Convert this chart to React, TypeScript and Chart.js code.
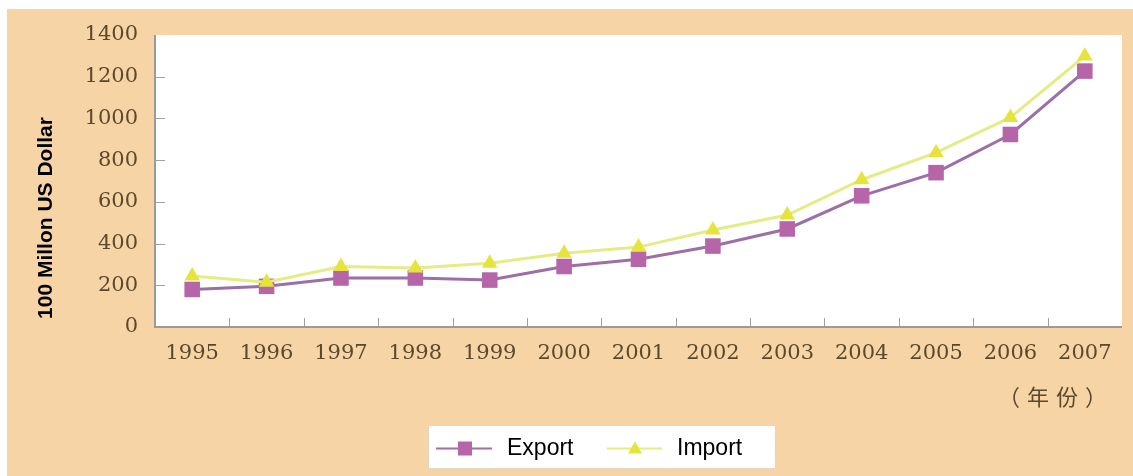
import React, { useEffect, useRef } from "react";
import { Chart, registerables } from "chart.js";

Chart.register(...registerables);

const years = ["1995", "1996", "1997", "1998", "1999", "2000", "2001", "2002", "2003", "2004", "2005", "2006", "2007"];
const exportValues = [180, 195, 235, 235, 225, 290, 325, 388, 470, 629, 740, 923, 1227];
const importValues = [245, 215, 290, 283, 306, 354, 383, 465, 537, 706, 836, 1005, 1299];
const yTicks = [0, 200, 400, 600, 800, 1000, 1200, 1400];
const yTitle = "100 Millon US Dollar";
const xUnit = "（年份）";
const legendLabels = ["Export", "Import"];

const ORANGE = "#F7D4A6";
const TICK_COLOR = "#5c482a";
const EXPORT_LINE = "#9c6fa6";
const EXPORT_POINT = "#b565a8";
const IMPORT_LINE = "#e4ec86";
const IMPORT_POINT = "#e6e43c";

const decorPlugin = {
  id: "decor",
  beforeDraw(chart: any) {
    const ctx = chart.ctx;
    const { left, right, top, bottom } = chart.chartArea;
    ctx.save();
    ctx.fillStyle = "#ffffff";
    ctx.fillRect(0, 0, chart.width, chart.height);
    ctx.fillStyle = ORANGE;
    ctx.fillRect(7, 9, chart.width - 7, chart.height - 9);
    ctx.fillStyle = "#ffffff";
    ctx.fillRect(left, top, right - left, bottom - top);
    ctx.restore();
  },
  afterDraw(chart: any) {
    const ctx = chart.ctx;
    const { left, right, top, bottom } = chart.chartArea;
    const xs = chart.scales.x;
    const ys = chart.scales.y;
    ctx.save();
    // inward tick marks
    ctx.strokeStyle = "#a0a0a0";
    ctx.lineWidth = 1;
    ctx.beginPath();
    for (const v of yTicks) {
      if (v === 0 || v === 1400) continue;
      const y = Math.round(ys.getPixelForValue(v)) + 0.5;
      ctx.moveTo(left, y);
      ctx.lineTo(left + 10, y);
    }
    for (let i = 1; i < years.length; i++) {
      const x = Math.round((xs.getPixelForValue(i - 1) + xs.getPixelForValue(i)) / 2) + 0.5;
      ctx.moveTo(x, bottom);
      ctx.lineTo(x, bottom - 9);
    }
    ctx.stroke();
    // axis lines
    ctx.strokeStyle = "#9a9a9a";
    ctx.lineWidth = 2;
    ctx.beginPath();
    ctx.moveTo(left, top);
    ctx.lineTo(left, bottom);
    ctx.lineTo(right, bottom);
    ctx.stroke();

    // y title
    ctx.save();
    ctx.translate(46, 218);
    ctx.rotate(-Math.PI / 2);
    ctx.fillStyle = "#000000";
    ctx.font = "bold 21px 'Liberation Sans', Arial, sans-serif";
    ctx.textAlign = "center";
    ctx.textBaseline = "middle";
    ctx.fillText(yTitle, 0, 0);
    ctx.restore();

    // x unit
    ctx.fillStyle = TICK_COLOR;
    ctx.font = "22px 'Noto Sans CJK SC', sans-serif";
    ctx.textAlign = "center";
    ctx.textBaseline = "middle";
    try { (ctx as any).letterSpacing = "7px"; } catch (e) {}
    ctx.fillText(xUnit, 1056, 397);
    try { (ctx as any).letterSpacing = "0px"; } catch (e) {}

    // legend
    const lx = 428, ly = 425, lw = 347, lh = 43;
    ctx.fillStyle = "#ffffff";
    ctx.fillRect(lx, ly, lw, lh);
    ctx.strokeStyle = "#e6d6c0";
    ctx.lineWidth = 1;
    ctx.strokeRect(lx + 0.5, ly + 0.5, lw, lh);
    const cy = ly + lh / 2 + 2;
    // export
    ctx.strokeStyle = EXPORT_LINE;
    ctx.lineWidth = 2;
    ctx.beginPath();
    ctx.moveTo(436, cy);
    ctx.lineTo(492, cy);
    ctx.stroke();
    ctx.fillStyle = EXPORT_POINT;
    ctx.fillRect(458, cy - 7, 14, 14);
    // import
    ctx.strokeStyle = IMPORT_LINE;
    ctx.beginPath();
    ctx.moveTo(607, cy);
    ctx.lineTo(662, cy);
    ctx.stroke();
    ctx.fillStyle = IMPORT_POINT;
    ctx.beginPath();
    ctx.moveTo(635, cy - 7);
    ctx.lineTo(642, cy + 5);
    ctx.lineTo(628, cy + 5);
    ctx.closePath();
    ctx.fill();
    ctx.fillStyle = "#000000";
    ctx.font = "23px 'Liberation Sans', Arial, sans-serif";
    ctx.textAlign = "left";
    ctx.textBaseline = "middle";
    ctx.fillText(legendLabels[0], 507, cy);
    ctx.fillText(legendLabels[1], 677, cy);
    ctx.restore();
  },
};

export default function App() {
  const ref = useRef<HTMLCanvasElement>(null);
  useEffect(() => {
    if (!ref.current) return;
    const chart = new Chart(ref.current, {
      type: "line",
      data: {
        labels: years,
        datasets: [
          {
            label: legendLabels[1],
            data: importValues,
            borderColor: IMPORT_LINE,
            backgroundColor: IMPORT_POINT,
            borderWidth: 3,
            pointStyle: "triangle",
            pointRadius: 9,
            pointBorderWidth: 0,
            pointBackgroundColor: IMPORT_POINT,
          },
          {
            label: legendLabels[0],
            data: exportValues,
            borderColor: EXPORT_LINE,
            backgroundColor: EXPORT_POINT,
            borderWidth: 3,
            pointStyle: "rect",
            pointRadius: 11,
            pointBorderWidth: 0,
            pointBackgroundColor: EXPORT_POINT,
          },
        ],
      },
      options: {
        animation: false,
        responsive: false,
        maintainAspectRatio: false,
        layout: { padding: { left: 0, top: 35, right: 6, bottom: 0 } },
        plugins: { legend: { display: false }, tooltip: { enabled: false } },
        scales: {
          x: {
            offset: true,
            grid: { display: false, drawTicks: false },
            border: { display: false },
            ticks: {
              color: TICK_COLOR,
              font: { family: "'DejaVu Serif', serif", size: 21 },
              padding: 14,
              maxRotation: 0,
              autoSkip: false,
            },
            afterFit: (s: any) => {
              s.height = 476 - 327;
            },
          },
          y: {
            min: 0,
            max: 1400,
            grid: { display: false, drawTicks: false },
            border: { display: false },
            ticks: {
              stepSize: 200,
              color: TICK_COLOR,
              font: { family: "'DejaVu Serif', serif", size: 21 },
              padding: 17,
              callback: (v: any) => String(v),
            },
            afterFit: (s: any) => {
              s.width = 155;
            },
          },
        },
      },
      plugins: [decorPlugin],
    });
    return () => chart.destroy();
  }, []);
  return (
    <div style={{ position: "absolute", left: 0, top: 0, width: 1133, height: 476 }}>
      <canvas ref={ref} width={1133} height={476} style={{ display: "block" }} />
    </div>
  );
}
